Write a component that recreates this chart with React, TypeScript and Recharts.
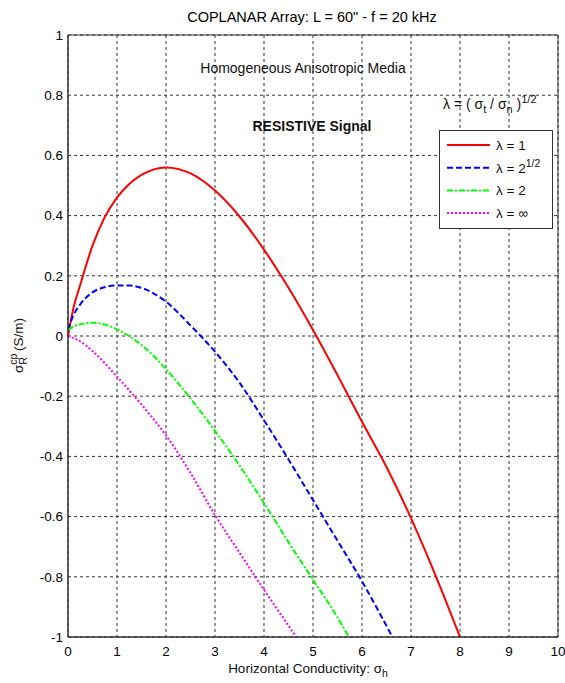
import React from 'react';
import { LineChart, Line, XAxis, YAxis, CartesianGrid, ReferenceArea } from 'recharts';

const FONT = "'Liberation Sans', Arial, sans-serif";

const xTicks = [0, 1, 2, 3, 4, 5, 6, 7, 8, 9, 10];
const yTicks = [-1, -0.8, -0.6, -0.4, -0.2, 0, 0.2, 0.4, 0.6, 0.8, 1];

// lambda = 1
const lambda1X = [0, 0.1, 0.25, 0.5, 0.75, 1, 1.25, 1.5, 2, 2.5, 3, 3.5, 4, 4.5, 5, 5.5, 6, 6.5, 7, 7.5, 8];
const lambda1Y = [0, 0.085, 0.17, 0.3, 0.395, 0.46, 0.505, 0.535, 0.56, 0.54, 0.483, 0.397, 0.287, 0.16, 0.02, -0.13, -0.285, -0.435, -0.605, -0.795, -1];

// lambda = 2^(1/2)
const lambda2X = [0, 0.1, 0.25, 0.5, 0.75, 1, 1.25, 1.5, 2, 2.5, 3, 3.5, 4, 4.5, 5, 5.5, 6, 6.62];
const lambda2Y = [0.02, 0.065, 0.105, 0.145, 0.162, 0.168, 0.168, 0.16, 0.114, 0.035, -0.052, -0.155, -0.28, -0.41, -0.545, -0.68, -0.815, -1];

// lambda = 2
const lambda3X = [0, 0.1, 0.25, 0.5, 0.75, 1, 1.5, 2, 2.5, 3, 3.5, 4, 4.5, 5, 5.5, 5.73];
const lambda3Y = [0.02, 0.03, 0.039, 0.044, 0.038, 0.022, -0.03, -0.11, -0.208, -0.315, -0.43, -0.555, -0.685, -0.81, -0.935, -1];

// lambda = infinity
const lambda4X = [0, 0.25, 0.5, 1, 1.5, 2, 2.5, 3, 3.5, 4, 4.66];
const lambda4Y = [0, -0.018, -0.05, -0.135, -0.228, -0.33, -0.455, -0.595, -0.72, -0.843, -1];

const toPoints = (xs: number[], ys: number[]) => xs.map((x, i) => ({ x, y: ys[i] }));

const series = [
  { key: 'l1', name: '1', sup: '', color: '#ff0000', dash: undefined, data: toPoints(lambda1X, lambda1Y) },
  { key: 'l2', name: '2', sup: '1/2', color: '#0000ff', dash: '6 3', data: toPoints(lambda2X, lambda2Y) },
  { key: 'l3', name: '2', sup: '', color: '#00ff00', dash: '6 2 2 2', data: toPoints(lambda3X, lambda3Y) },
  { key: 'l4', name: '\u221e', sup: '', color: '#ff00ff', dash: '2 2', data: toPoints(lambda4X, lambda4Y) },
];

const W = 565;
const H = 683;

export default function App() {
  return (
    <div style={{ position: 'absolute', left: 0, top: 0, width: W, height: H, background: '#fff' }}>
      <LineChart width={W} height={H} margin={{ top: 35, right: 7, bottom: 26, left: 0 }}>
        <CartesianGrid stroke="#333" strokeDasharray="3 3" />
        <XAxis
          type="number"
          dataKey="x"
          domain={[0, 10]}
          ticks={xTicks}
          height={20}
          tickSize={0}
          tickMargin={9}
          axisLine={{ stroke: '#333' }}
          tick={{ fill: '#000', fontSize: 13.5, fontFamily: FONT }}
        />
        <YAxis
          type="number"
          dataKey="y"
          domain={[-1, 1]}
          ticks={yTicks}
          width={68}
          tickSize={0}
          tickMargin={5}
          axisLine={{ stroke: '#333' }}
          tick={{ fill: '#000', fontSize: 13.5, fontFamily: FONT }}
          tickFormatter={(v: number) => String(v)}
        />
        {series.map((s) => (
          <Line
            key={s.key}
            data={s.data}
            dataKey="y"
            type="monotone"
            stroke={s.color}
            strokeWidth={2}
            strokeDasharray={s.dash}
            dot={false}
            activeDot={false}
            isAnimationActive={false}
          />
        ))}
        <ReferenceArea x1={0} x2={10} y1={-1} y2={1} fill="none" stroke="#333" strokeWidth={1} />
      </LineChart>

      <svg
        width={W}
        height={H}
        style={{ position: 'absolute', left: 0, top: 0, pointerEvents: 'none' }}
        fontFamily={FONT}
      >
        <text x={312} y={22} textAnchor="middle" fontSize={14.5} fill="#000">
          COPLANAR Array: L = 60" - f = 20 kHz
        </text>
        <text x={303} y={73} textAnchor="middle" fontSize={14} fill="#111">
          Homogeneous Anisotropic Media
        </text>
        <text x={312} y={131} textAnchor="middle" fontSize={14} fontWeight="bold" fill="#111">
          RESISTIVE Signal
        </text>

        {/* legend title */}
        <text x={443} y={109} fontSize={14} fill="#111">
          {'\u03bb = ( \u03c3'}
          <tspan fontSize={11} dy={4}>t</tspan>
          <tspan dy={-4}>{' / \u03c3'}</tspan>
          <tspan fontSize={11} dy={4}>n</tspan>
          <tspan dy={-4}>{' )'}</tspan>
          <tspan fontSize={11} dy={-6}>1/2</tspan>
        </text>

        {/* legend */}
        <rect x={439.5} y={130.5} width={113} height={98} fill="#fff" stroke="#333" />
        {series.map((s, i) => {
          const cy = 145 + i * 22.7;
          return (
            <g key={s.key}>
              <line x1={447} x2={490} y1={cy} y2={cy} stroke={s.color} strokeWidth={2} strokeDasharray={s.dash} />
              <text x={496} y={cy + 5} fontSize={13.5} fill="#111">
                {'\u03bb = ' + s.name}
                {s.sup ? <tspan fontSize={10.5} dy={-6}>{s.sup}</tspan> : null}
              </text>
            </g>
          );
        })}

        {/* x label */}
        <text x={308} y={673} textAnchor="middle" fontSize={13.5} fill="#111">
          {'Horizontal Conductivity: \u03c3'}
          <tspan fontSize={10.5} dy={4}>h</tspan>
        </text>

        {/* y label */}
        <text transform="translate(23,373) rotate(-90)" fontSize={13.5} fill="#111">
          {'\u03c3'}
          <tspan fontSize={10.5} dy={-6}>cp</tspan>
          <tspan fontSize={10.5} dx={-11} dy={10}>R</tspan>
          <tspan dx={6} dy={-4}>(S/m)</tspan>
        </text>
      </svg>
    </div>
  );
}
